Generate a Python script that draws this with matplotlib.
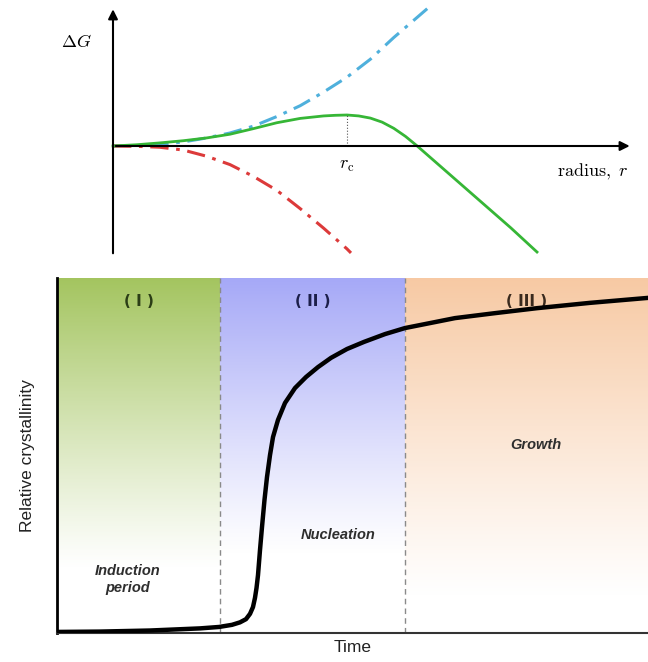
import numpy as np
import matplotlib.pyplot as plt

plt.rcParams['mathtext.fontset'] = 'cm'

# ---- top panel: free energy vs radius (r in units of r_c) ----
surf_r = [0, 0.1, 0.2, 0.3, 0.4, 0.5, 0.6, 0.7, 0.8, 0.9, 1.0, 1.1, 1.2, 1.3, 1.346]
surf_g = [0, 0.01, 0.05, 0.13, 0.26, 0.42, 0.64, 0.95, 1.3, 1.74, 2.22, 2.8, 3.5, 4.15, 4.45]

tot_r = [0, 0.1, 0.2, 0.3, 0.4, 0.5, 0.6, 0.7, 0.8, 0.9, 0.95, 1.0, 1.05, 1.1, 1.15, 1.2,
         1.25, 1.3, 1.4, 1.5, 1.6, 1.7, 1.812]
tot_g = [0, 0.04, 0.1, 0.17, 0.26, 0.38, 0.56, 0.75, 0.89, 0.97, 0.99, 1.0, 0.97, 0.9, 0.77,
         0.57, 0.31, 0.0, -0.66, -1.32, -1.98, -2.64, -3.42]

vol_r = [0, 0.1, 0.2, 0.3, 0.4, 0.5, 0.6, 0.7, 0.8, 0.9, 1.0, 1.017]
vol_g = [0, -0.01, -0.04, -0.13, -0.33, -0.6, -0.98, -1.43, -2.02, -2.65, -3.32, -3.45]

# ---- bottom panel: relative crystallinity vs time ----
time = [0, 0.728, 1.574, 2.420, 2.741, 2.961, 3.096, 3.198, 3.266, 3.316, 3.350, 3.376,
        3.401, 3.435, 3.469, 3.511, 3.553, 3.604, 3.655, 3.739, 3.858, 4.027, 4.213,
        4.416, 4.636, 4.907, 5.195, 5.550, 5.888, 6.311, 6.734, 7.411, 8.122, 9.019, 10]
cryst = [0.003, 0.004, 0.007, 0.013, 0.017, 0.023, 0.030, 0.039, 0.054, 0.073, 0.099,
         0.127, 0.163, 0.234, 0.299, 0.375, 0.439, 0.501, 0.552, 0.600, 0.648, 0.690,
         0.721, 0.749, 0.775, 0.800, 0.820, 0.842, 0.859, 0.873, 0.887, 0.901, 0.915,
         0.930, 0.944]

stage_edges = [0, 2.758, 5.888, 10]
stage_labels = ['( I )', '( II )', '( III )']
stage_colors = [(0.64, 0.77, 0.37), (0.65, 0.66, 0.97), (0.97, 0.79, 0.64)]
stage_fade = [0.18, 0.22, 0.10]
stage_text_colors = ['#2b3d16', '#1c1f4a', '#3a2a1e']
stage_names = ['Induction\nperiod', 'Nucleation', 'Growth']
name_pos = [(1.2, 0.15), (4.75, 0.275), (8.1, 0.53)]

W, H = 648, 662
fig = plt.figure(figsize=(W / 100, H / 100), dpi=100)

# top axes
ax1 = fig.add_axes([0, 1 - 260 / H, 1, 260 / H])
ax1.set_xlim(-113 / 234, (648 - 113) / 234)
ax1.set_ylim((146 - 260) / 31, 146 / 31)
ax1.axis('off')

ax1.plot(surf_r, surf_g, color='#4fb0dc', lw=2.2, ls=(0, (6, 2.5, 1.2, 2.5)))
ax1.plot(vol_r, vol_g, color='#dc3a3a', lw=2.2, ls=(0, (6, 2.5, 1.2, 2.5)))
ax1.plot(tot_r, tot_g, color='#36b636', lw=2)
ax1.plot([1, 1], [0, 1], color='#555555', lw=0.8, ls=':')

ax1.annotate('', xy=(0, 4.5), xytext=(0, -3.55),
             arrowprops=dict(arrowstyle='-|>', color='black', lw=1.5, mutation_scale=14))
ax1.annotate('', xy=(2.22, 0), xytext=(0, 0),
             arrowprops=dict(arrowstyle='-|>', color='black', lw=1.5, mutation_scale=14))
ax1.text(-0.155, 3.35, r'$\Delta G$', fontsize=13, ha='center', va='center')
ax1.text(1.0, -0.62, r'$r_{\rm c}$', fontsize=13, ha='center', va='center')
ax1.text(2.05, -0.85, r'$\mathrm{radius,}\ r$', fontsize=13, ha='center', va='center')

# bottom axes
ax2 = fig.add_axes([57 / W, (H - 633) / H, (W - 57) / W, 355 / H])
ax2.set_xlim(0, 10)
ax2.set_ylim(0, 1)

n = 256
yy = np.linspace(1, 0, n)
for i in range(3):
    c = stage_colors[i]
    f = stage_fade[i]
    a = np.clip((yy - f) / (1 - f), 0, 1) ** 1.1
    img = np.zeros((n, 1, 4))
    img[:, 0, 0] = c[0]
    img[:, 0, 1] = c[1]
    img[:, 0, 2] = c[2]
    img[:, 0, 3] = a
    ax2.imshow(img, extent=[stage_edges[i], stage_edges[i + 1], 0, 1],
               aspect='auto', interpolation='bilinear', zorder=0)
    ax2.text((stage_edges[i] + stage_edges[i + 1]) / 2, 0.935, stage_labels[i],
             fontsize=11, fontweight='heavy', color=stage_text_colors[i],
             ha='center', va='center', family='DejaVu Sans')
    ax2.text(name_pos[i][0], name_pos[i][1], stage_names[i], fontsize=10.5,
             fontweight='bold', style='italic', color='#2e2e2e',
             ha='center', va='center', family='Liberation Sans', linespacing=1.3)

for x in stage_edges[1:3]:
    ax2.axvline(x, color='#8a8a8a', lw=1, ls=(0, (4, 3)), zorder=1)

ax2.plot(time, cryst, color='black', lw=3.2, solid_capstyle='round',
         solid_joinstyle='round', zorder=3)

ax2.spines['top'].set_visible(False)
ax2.spines['right'].set_visible(False)
ax2.spines['left'].set_linewidth(2)
ax2.spines['bottom'].set_linewidth(1.5)
ax2.spines['bottom'].set_color('#333333')
ax2.set_xticks([])
ax2.set_yticks([])
ax2.set_xlabel('Time', fontsize=12.5, family='Liberation Sans', color='#222222', labelpad=5)
ax2.set_ylabel('Relative crystallinity', fontsize=12.5, family='Liberation Sans',
               color='#222222', labelpad=16)

fig.savefig('out.png', dpi=100)
